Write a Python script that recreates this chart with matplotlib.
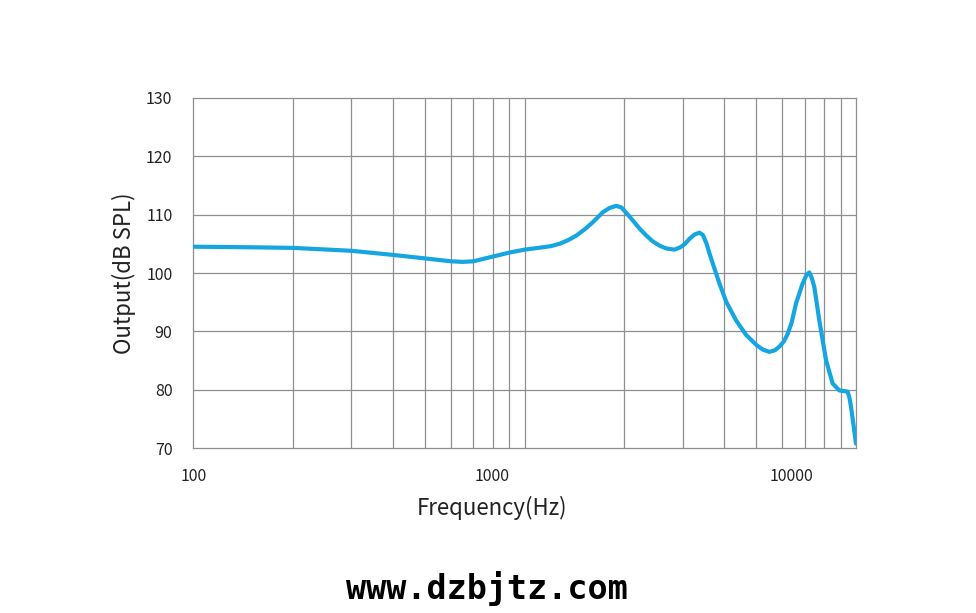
import matplotlib
matplotlib.use("Agg")
import matplotlib.pyplot as plt
from matplotlib.ticker import FixedLocator, NullFormatter

# frequency response
freq = [100, 150, 200, 300, 400, 500, 600, 650, 700, 800, 900, 1000, 1100,
        1200, 1275, 1350, 1432, 1520, 1607, 1722, 1800, 1890, 1960, 2026, 2120,
        2222, 2330, 2437, 2550, 2674, 2832, 2950, 3036, 3150, 3260, 3370, 3450,
        3530, 3610, 3697, 3872, 4056, 4346, 4659, 5000, 5230, 5480, 5700, 5872,
        6060, 6223, 6400, 6592, 6902, 7080, 7228, 7350, 7486, 7749, 8120, 8500,
        8906, 9435, 9560, 9660, 10000]
spl = [104.5, 104.4, 104.3, 103.8, 103.1, 102.5, 102.0, 101.9, 102.0, 102.8,
       103.5, 104.0, 104.3, 104.6, 105.0, 105.6, 106.4, 107.5, 108.7, 110.4,
       111.1, 111.5, 111.2, 110.3, 109.0, 107.6, 106.4, 105.4, 104.7, 104.2,
       104.0, 104.4, 104.9, 105.9, 106.6, 106.9, 106.5, 105.2, 103.4, 101.6,
       98.2, 95.1, 91.9, 89.4, 87.7, 86.9, 86.5, 86.8, 87.4, 88.3, 89.6, 91.6,
       94.8, 98.2, 99.6, 100.1, 99.2, 97.6, 91.9, 85.1, 81.1, 79.9, 79.7, 78.6,
       77.1, 70.8]

y_ticks = [70, 80, 90, 100, 110, 120, 130]
grid_freqs = [200, 300, 400, 500, 600, 700, 800, 900, 1000,
              2000, 3000, 4000, 5000, 6000, 7000, 8000, 9000]
# the tick labels sit left of the real decade lines in the original
tick_pos = [100, 800, 6400]
tick_labels = ["100", "1000", "10000"]

plt.rcParams['font.family'] = ['Noto Sans CJK SC', 'DejaVu Sans']

fig = plt.figure(figsize=(9.76, 6.13), dpi=100)
ax = fig.add_axes([193.3 / 976, 1 - 448.3 / 613, 662.7 / 976, 350.6 / 613])

ax.plot(freq, spl, color='#15A5E0', lw=3.0, solid_joinstyle='round',
        solid_capstyle='round', zorder=3)

ax.set_xscale('log')
ax.set_xlim(100, 10000)
ax.set_ylim(70, 130)

ax.xaxis.set_minor_locator(FixedLocator(grid_freqs))
ax.xaxis.set_minor_formatter(NullFormatter())
ax.set_xticks(tick_pos, tick_labels)
ax.set_yticks(y_ticks)
ax.grid(False)
for f in grid_freqs:
    ax.axvline(f, color='#8f8f8f', lw=0.9, zorder=1)
for v in y_ticks[1:-1]:
    ax.axhline(v, color='#8f8f8f', lw=0.9, zorder=1)

for s in ax.spines.values():
    s.set_color('#8f8f8f')
    s.set_linewidth(0.9)

ax.tick_params(axis='both', which='both', length=0, labelsize=11.5,
               colors='#222222')
ax.tick_params(axis='y', pad=15)
ax.tick_params(axis='x', pad=14)

ax.set_ylabel('Output(dB SPL)', fontsize=16, color='#222222')
ax.yaxis.set_label_coords(-0.086, 0.5)
ax.set_xlabel('Frequency(Hz)', fontsize=16, color='#222222')
ax.xaxis.set_label_coords(0.45, -0.135)

fig.text(487 / 976, 1 - 588 / 613, 'www.dzbjtz.com', ha='center', va='center',
         fontsize=24, fontweight='bold', family='DejaVu Sans Mono', color='black')

fig.savefig('out.png', dpi=100)
